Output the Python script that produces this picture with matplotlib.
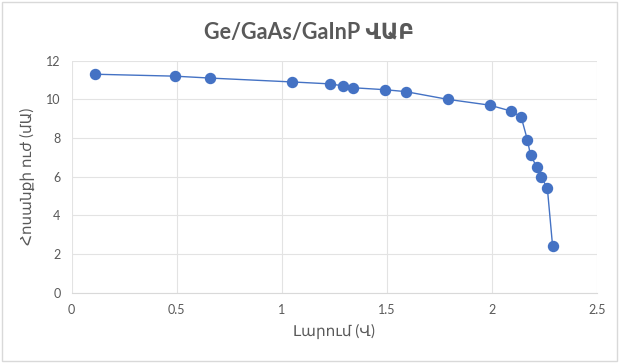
import matplotlib
matplotlib.use("Agg")
import matplotlib.pyplot as plt

plt.rcParams['font.family'] = ['Lato', 'DejaVu Sans']

# voltage (V) and current (mA)
voltage = [0.11, 0.49, 0.66, 1.05, 1.23, 1.29, 1.34, 1.49, 1.59, 1.79,
           1.99, 2.09, 2.14, 2.17, 2.185, 2.215, 2.235, 2.265, 2.29]
current = [11.3, 11.2, 11.1, 10.9, 10.8, 10.7, 10.6, 10.5, 10.4, 10.0,
           9.7, 9.4, 9.1, 7.9, 7.1, 6.5, 6.0, 5.4, 2.4]

x_ticks = [0, 0.5, 1, 1.5, 2, 2.5]
x_tick_labels = ["0", "0.5", "1", "1.5", "2", "2.5"]
y_ticks = [0, 2, 4, 6, 8, 10, 12]

grey = "#595959"
blue = "#4472C4"

fig = plt.figure(figsize=(6.19, 3.63), dpi=100)
ax = fig.add_axes([71.7 / 619, 1 - 292.5 / 363, 525 / 619, (292.5 - 60.7) / 363])

ax.plot(voltage, current, color=blue, linewidth=1.0, marker="o",
        markersize=7.2, markerfacecolor=blue, markeredgecolor=blue)

ax.set_xlim(0, 2.5)
ax.set_ylim(0, 12)
ax.set_xticks(x_ticks)
ax.set_xticklabels(x_tick_labels)
ax.set_yticks(y_ticks)
ax.grid(True, color="#e3e3e3", linewidth=0.8)
ax.set_axisbelow(True)
for side in ["top", "right", "left"]:
    ax.spines[side].set_visible(False)
ax.spines["bottom"].set_color("#d9d9d9")
ax.tick_params(length=0, labelsize=9, labelcolor=grey, pad=8)

ax.set_xlabel("Լարում (Վ)", fontsize=11, color=grey, labelpad=6)
ax.set_ylabel("Հոսանքի ուժ (մԱ)", fontsize=11, color=grey, labelpad=8)
fig.text(0.5, 1 - 32 / 363, "Ge/GaAs/GaInP ՎԱԲ", ha="center", va="center",
         fontsize=15.5, fontweight="bold", color=grey)

# light frame around the chart
frame = plt.Rectangle((0.004, 0.006), 0.992, 0.988, transform=fig.transFigure,
                      fill=False, edgecolor="#d9d9d9", linewidth=1)
fig.patches.append(frame)

fig.savefig("out.png", dpi=100)
